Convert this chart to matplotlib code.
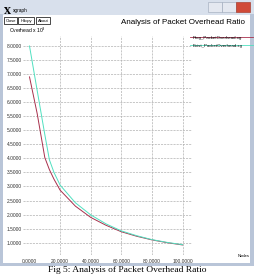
import matplotlib
matplotlib.use("Agg")
import matplotlib.pyplot as plt
from matplotlib.patches import Rectangle

nodes = [0, 5, 10, 13, 16, 20, 30, 40, 50, 60, 70, 80, 90, 100]
prog = [6.9, 5.6, 4.03, 3.6, 3.26, 2.87, 2.3, 1.9, 1.62, 1.39, 1.23, 1.10, 1.0, 0.92]
exist = [8.0, 6.42, 4.85, 3.95, 3.5, 3.05, 2.42, 1.99, 1.67, 1.42, 1.25, 1.11, 1.01, 0.93]
xticks = [0, 20, 40, 60, 80, 100]
yticks = [1.0, 1.5, 2.0, 2.5, 3.0, 3.5, 4.0, 4.5, 5.0, 5.5, 6.0, 6.5, 7.0, 7.5, 8.0]
series_names = ["Prog_PacketOverhead.xg", "Exist_PacketOverhead.xg"]
colors = ["#a8304c", "#50e0c0"]

W, H = 254, 276
fig = plt.figure(figsize=(W / 100, H / 100), dpi=100)
fig.patch.set_facecolor("white")

# background (pixel coordinates)
bg = fig.add_axes([0, 0, 1, 1])
bg.set_xlim(0, W)
bg.set_ylim(H, 0)
bg.axis("off")
frame = "#b9c5d8"
bg.add_patch(Rectangle((0, 0), W, 15, color="#d8e0ec", lw=0))
bg.add_patch(Rectangle((0, 14), 3, 252, color=frame, lw=0))
bg.add_patch(Rectangle((250, 14), 4, 252, color=frame, lw=0))
bg.add_patch(Rectangle((0, 263), W, 3, color=frame, lw=0))
bg.add_patch(Rectangle((208, 2), 14, 10, facecolor="#e4e8f0", edgecolor="#9aa6b8", lw=0.4))
bg.add_patch(Rectangle((222, 2), 14, 10, facecolor="#e4e8f0", edgecolor="#9aa6b8", lw=0.4))
bg.add_patch(Rectangle((236, 2), 14, 10, facecolor="#d04a38", edgecolor="#a03020", lw=0.4))
bg.text(4, 11, "X", fontsize=6.5, fontweight="bold", family="DejaVu Serif", va="center", ha="left")
bg.text(13, 10.5, "xgraph", fontsize=3.4, va="center", ha="left", family="Liberation Sans")
for (x0, x1), lab in zip([(4, 17), (18, 34), (36, 50)], ["Close", "Hdcpy", "About"]):
    bg.add_patch(Rectangle((x0, 17), x1 - x0, 7, facecolor="white", edgecolor="black", lw=0.5))
    bg.text((x0 + x1) / 2, 20.7, lab, fontsize=3.0, ha="center", va="center", family="Liberation Sans")
bg.text(183, 23, "Analysis of Packet Overhead Ratio", fontsize=5.8, ha="center", va="center",
        family="Liberation Sans")
bg.text(9, 30.5, r"Overhead x 10$^3$", fontsize=3.6, ha="left", va="center", family="Liberation Sans")
bg.text(250, 256, "Nodes", fontsize=3.0, ha="right", va="center", family="Liberation Sans")
bg.text(127, 270.5, "Fig 5: Analysis of Packet Overhead Ratio", fontsize=6.8, ha="center", va="center",
        family="Liberation Serif")

# legend
for i, (name, c) in enumerate(zip(series_names, colors)):
    y = 37 + 7.5 * i
    bg.plot([190, 253], [y, y], color=c, lw=0.6)
    bg.text(193, y + 1.5, name, fontsize=3.2, ha="left", va="center", family="Liberation Sans")

# data axes
ax = fig.add_axes([23 / W, 1 - 255 / H, (192 - 23) / W, (255 - 36) / H])
ax.set_facecolor("none")
for c, vals in zip(colors, [prog, exist]):
    ax.plot(nodes, vals, color=c, lw=0.7)
ax.set_xlim(-4.25, 106.2)
ax.set_ylim(0.562, 8.356)
ax.set_xticks(xticks)
ax.set_yticks(yticks)
ax.set_xticklabels(["%.4f" % v for v in xticks], family="Liberation Sans")
ax.set_yticklabels(["%.4f" % v for v in yticks], family="Liberation Sans")
ax.tick_params(axis="both", length=0, labelsize=3.5, colors="#333333")
ax.tick_params(axis="x", pad=3)
ax.tick_params(axis="y", pad=1)
for s in ax.spines.values():
    s.set_visible(False)
ax.grid(True, color="#b0b0b0", lw=0.5, ls=(0, (3, 1.5)))
ax.xaxis.get_gridlines()[0].set_visible(False)

fig.savefig("out.png", dpi=100)
